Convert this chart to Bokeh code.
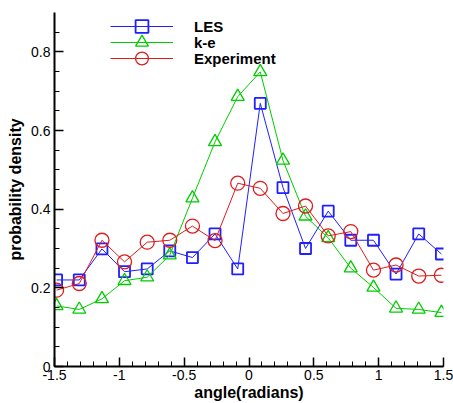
from bokeh.plotting import figure
from bokeh.models import Range1d, FixedTicker, Legend, LegendItem
from bokeh.embed import file_html
from bokeh.resources import INLINE

angle = [-1.484, -1.309, -1.134, -0.960, -0.785, -0.611, -0.436, -0.262, -0.087,
         0.087, 0.262, 0.436, 0.611, 0.785, 0.960, 1.134, 1.309, 1.484]
les = [0.220, 0.220, 0.299, 0.241, 0.248, 0.294, 0.277, 0.337, 0.248,
       0.669, 0.455, 0.300, 0.395, 0.321, 0.321, 0.235, 0.337, 0.286]
ke = [0.154, 0.145, 0.172, 0.218, 0.227, 0.283, 0.428, 0.571, 0.686,
      0.749, 0.524, 0.382, 0.327, 0.250, 0.201, 0.148, 0.145, 0.137]
experiment = [0.194, 0.211, 0.321, 0.266, 0.316, 0.321, 0.357, 0.320, 0.466,
              0.453, 0.389, 0.408, 0.332, 0.343, 0.245, 0.258, 0.230, 0.232]

x_ticks = [-1.5, -1.0, -0.5, 0.0, 0.5, 1.0, 1.5]
x_tick_labels = ["-1.5", "-1", "-0.5", "0", "0.5", "1", "1.5"]
y_ticks = [0.0, 0.2, 0.4, 0.6, 0.8]
y_tick_labels = ["0", "0.2", "0.4", "0.6", "0.8"]
series_names = ["LES", "k-e", "Experiment"]

FONT = "Liberation Sans"
BLUE = "#1f1fff"
GREEN = "#00cc00"
RED = "#dd1c1c"

p = figure(width=453, height=403, output_backend="svg", toolbar_location=None,
           x_range=Range1d(-1.5, 1.5), y_range=Range1d(0, 0.9),
           min_border_left=54, min_border_right=10, min_border_top=12,
           min_border_bottom=37)
p.outline_line_color = None
p.grid.visible = False
p.background_fill_color = "white"
p.border_fill_color = "white"

x_minor = [round(-1.5 + 0.1 * i, 2) for i in range(31)]
y_minor = [round(0.05 * i, 2) for i in range(18)]
p.xaxis.ticker = FixedTicker(ticks=x_ticks, minor_ticks=x_minor)
p.yaxis.ticker = FixedTicker(ticks=y_ticks, minor_ticks=y_minor)
p.xaxis.major_label_overrides = dict(zip(x_ticks, x_tick_labels))
p.yaxis.major_label_overrides = dict(zip(y_ticks, y_tick_labels))

for ax in (p.xaxis, p.yaxis):
    ax.axis_line_color = "black"
    ax.axis_line_width = 2
    ax.major_tick_in = 9
    ax.major_tick_out = 0
    ax.minor_tick_in = 5
    ax.minor_tick_out = 0
    ax.major_tick_line_color = "black"
    ax.major_tick_line_width = 1.5
    ax.minor_tick_line_color = "black"
    ax.minor_tick_line_width = 1
    ax.major_label_text_font = FONT
    ax.major_label_text_font_size = "14px"
    ax.major_label_text_color = "black"
    ax.axis_label_text_font = FONT
    ax.axis_label_text_font_size = "16px"
    ax.axis_label_text_font_style = "bold"
    ax.axis_label_text_color = "black"

p.xaxis.axis_label = "angle(radians)"
p.yaxis.axis_label = "probability density"
p.xaxis.major_label_standoff = 3
p.xaxis.axis_label_standoff = 1
p.yaxis.major_label_standoff = 4
p.yaxis.axis_label_standoff = 4

l1 = p.line(angle, les, line_color=BLUE, line_width=1)
m1 = p.scatter(angle, les, marker="square", size=11, line_color=BLUE,
               fill_color=None, line_width=1.8)
l2 = p.line(angle, ke, line_color=GREEN, line_width=1)
m2 = p.scatter(angle, ke, marker="triangle", size=13, line_color=GREEN,
               fill_color=None, line_width=1.3)
l3 = p.line(angle, experiment, line_color=RED, line_width=1)
m3 = p.scatter(angle, experiment, marker="circle", size=14, line_color=RED,
               fill_color=None, line_width=1.3)

# one single-row legend per series so that legend markers keep full size
legend_rows = [(series_names[0], [l1, m1], 324),
               (series_names[1], [l2, m2], 308),
               (series_names[2], [l3, m3], 292)]
for name, rends, ypos in legend_rows:
    lg = Legend(items=[LegendItem(label=name, renderers=rends)], location=(56, ypos))
    lg.glyph_width = 63
    lg.glyph_height = 32
    lg.label_height = 16
    lg.spacing = 0
    lg.padding = 0
    lg.margin = 0
    lg.label_standoff = 21
    lg.border_line_color = None
    lg.background_fill_alpha = 0
    lg.label_text_font = FONT
    lg.label_text_font_size = "15px"
    lg.label_text_font_style = "bold"
    lg.label_text_color = "black"
    p.add_layout(lg)

open("out.html", "w").write(file_html(p, INLINE))
